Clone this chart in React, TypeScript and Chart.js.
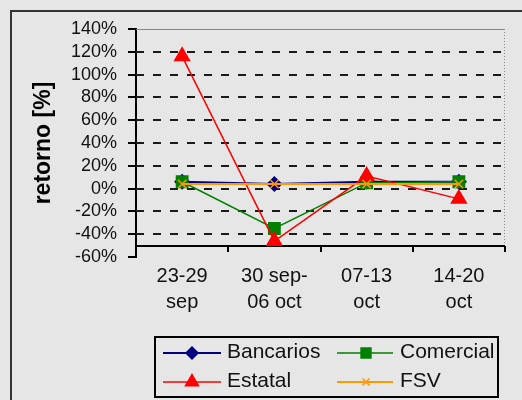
import React, { useEffect, useRef } from 'react';
import { Chart, registerables } from 'chart.js';
import { drawPoint } from 'chart.js/helpers';

Chart.register(...registerables);

// ---- data ----
const categories: string[][] = [
  ['23-29', 'sep'],
  ['30 sep-', '06 oct'],
  ['07-13', 'oct'],
  ['14-20', 'oct'],
];
const bancarios = [6, 4, 6, 6];
const comercial = [6, -35, 5, 6];
const estatal = [116, -46, 11, -9];
const fsv = [4, 4, 4, 4];
const seriesNames = ['Bancarios', 'Comercial', 'Estatal', 'FSV'];
const yMin = -60;
const yMax = 140;
const yStep = 20;
const xAxisAt = -50;
const dashedGridValues = [120, 100, 80, 60, 40, 20, 0, -20, -40];
const yTitle = 'retorno [%]';

const FONT = "'Liberation Sans', Arial, sans-serif";
const BG = '#e6e6e6';

const colors = ['#000080', '#008000', '#ff0000', '#ff9900'];
const pointStyles = ['rectRot', 'rect', 'triangle', 'crossRot'];
const pointRadii = [7, 8, 8.5, 6];
const lineWidths = [2, 1.5, 1.5, 2];

const backgroundPlugin = {
  id: 'bgBorder',
  beforeDraw(chart: any) {
    const { ctx, width, height } = chart;
    ctx.save();
    ctx.fillStyle = BG;
    ctx.fillRect(0, 0, width, height);
    ctx.strokeStyle = '#333';
    ctx.lineWidth = 2;
    ctx.strokeRect(11, 11, width + 20, height + 20);
    ctx.restore();
  },
};

const plotPlugin = {
  id: 'plotDecor',
  beforeDatasetsDraw(chart: any) {
    const { ctx, chartArea } = chart;
    const y = chart.scales.y;
    const x = chart.scales.x;
    const { left, right, top } = chartArea;
    ctx.save();
    // dashed grid lines
    ctx.strokeStyle = '#1a1a1a';
    ctx.lineWidth = 2;
    ctx.setLineDash([8, 9]);
    dashedGridValues.forEach((v) => {
      const py = Math.round(y.getPixelForValue(v));
      ctx.beginPath();
      ctx.moveTo(left, py);
      ctx.lineTo(right, py);
      ctx.stroke();
    });
    const axisY = Math.round(y.getPixelForValue(xAxisAt));
    // top border line
    ctx.setLineDash([]);
    ctx.strokeStyle = '#888';
    ctx.lineWidth = 1;
    ctx.beginPath();
    ctx.moveTo(left, top + 0.5);
    ctx.lineTo(right, top + 0.5);
    ctx.stroke();
    // right dotted border
    ctx.setLineDash([1, 2]);
    ctx.beginPath();
    ctx.moveTo(right - 0.5, top);
    ctx.lineTo(right - 0.5, axisY);
    ctx.stroke();
    // category axis crossing at -50%
    ctx.setLineDash([]);
    ctx.strokeStyle = '#000';
    ctx.lineWidth = 2;
    ctx.beginPath();
    ctx.moveTo(left, axisY);
    ctx.lineTo(right, axisY);
    ctx.stroke();
    const n = categories.length;
    for (let i = 0; i < n; i++) {
      const px =
        i < n - 1
          ? (x.getPixelForTick(i) + x.getPixelForTick(i + 1)) / 2
          : right;
      const rx = Math.round(px);
      ctx.beginPath();
      ctx.moveTo(rx, axisY);
      ctx.lineTo(rx, axisY + 6);
      ctx.stroke();
    }
    ctx.restore();
  },
};

const legendPlugin = {
  id: 'customLegend',
  afterDraw(chart: any) {
    const { ctx } = chart;
    ctx.save();
    ctx.strokeStyle = '#000';
    ctx.lineWidth = 2;
    ctx.strokeRect(155, 337, 343, 60);
    const cols = [
      { l0: 163, l1: 221, m: 192, t: 227 },
      { l0: 337, l1: 393, m: 366, t: 400 },
    ];
    const rows = [
      { ly: 353, ty: 358 },
      { ly: 382, ty: 387 },
    ];
    ctx.font = `21px ${FONT}`;
    ctx.textBaseline = 'alphabetic';
    ctx.textAlign = 'left';
    seriesNames.forEach((name, i) => {
      const c = cols[i % 2];
      const r = rows[Math.floor(i / 2)];
      ctx.strokeStyle = colors[i];
      ctx.lineWidth = lineWidths[i];
      ctx.beginPath();
      ctx.moveTo(c.l0, r.ly);
      ctx.lineTo(c.l1, r.ly);
      ctx.stroke();
      ctx.fillStyle = colors[i];
      ctx.strokeStyle = colors[i];
      ctx.lineWidth = 1.5;
      drawPoint(
        ctx,
        {
          pointStyle: pointStyles[i],
          radius: pointRadii[i] - 1,
          rotation: 0,
          borderWidth: 1.5,
        } as any,
        c.m,
        r.ly
      );
      ctx.fillStyle = '#111';
      ctx.fillText(name, c.t, r.ty);
    });
    ctx.restore();
  },
};

export default function App() {
  const ref = useRef<HTMLCanvasElement>(null);

  useEffect(() => {
    if (!ref.current) return;
    const seriesData = [bancarios, comercial, estatal, fsv];
    const chart = new Chart(ref.current, {
      type: 'line',
      data: {
        labels: categories,
        datasets: seriesData.map((d, i) => ({
          label: seriesNames[i],
          data: d,
          borderColor: colors[i],
          backgroundColor: colors[i],
          borderWidth: lineWidths[i],
          pointStyle: pointStyles[i] as any,
          pointRadius: pointRadii[i],
          pointBorderWidth: 1.5,
          pointBorderColor: colors[i],
          pointBackgroundColor: colors[i],
          tension: 0,
          fill: false,
          order: 4 - i,
        })),
      },
      options: {
        responsive: false,
        animation: false,
        events: [],
        layout: { padding: { left: 0, top: 29, right: 17, bottom: 83 } },
        plugins: {
          legend: { display: false },
          tooltip: { enabled: false },
          title: { display: false },
        },
        scales: {
          x: {
            type: 'category',
            offset: true,
            grid: { display: false, drawTicks: false, tickLength: 0 },
            border: { display: false },
            ticks: {
              color: '#111',
              padding: 6,
              maxRotation: 0,
              autoSkip: false,
              font: { family: FONT, size: 20, lineHeight: 1.3 },
            },
            afterFit: (s: any) => {
              s.height = 60;
            },
          },
          y: {
            type: 'linear',
            min: yMin,
            max: yMax,
            border: { display: true, color: '#000', width: 2 },
            grid: {
              drawOnChartArea: false,
              drawTicks: true,
              tickLength: 8,
              color: '#000',
              tickColor: '#000',
              tickWidth: 2,
              lineWidth: 2,
            },
            ticks: {
              stepSize: yStep,
              autoSkip: false,
              color: '#111',
              padding: 11,
              font: { family: FONT, size: 18 },
              callback: (v: any) => `${v}%`,
            },
            title: {
              display: true,
              text: yTitle,
              color: '#000',
              font: { family: FONT, size: 23, weight: 'bold' },
              padding: { top: 30, bottom: 0 },
            },
            afterFit: (s: any) => {
              s.width = 136;
            },
          },
        },
      },
      plugins: [backgroundPlugin, plotPlugin, legendPlugin],
    });
    return () => chart.destroy();
  }, []);

  return (
    <div style={{ position: 'absolute', left: 0, top: 0, width: 522, height: 400 }}>
      <canvas ref={ref} width={522} height={400} style={{ display: 'block' }} />
    </div>
  );
}
